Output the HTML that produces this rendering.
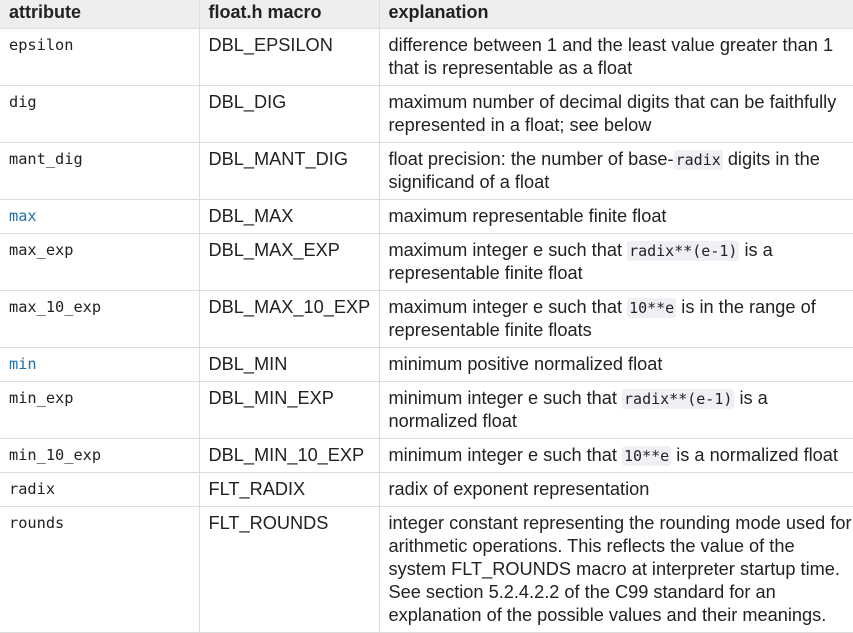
<!DOCTYPE html>
<html><head><meta charset="utf-8"><style>
body{margin:0;background:#fff;width:853px;height:629px;overflow:hidden}
table{border-collapse:collapse;table-layout:fixed;width:853px;font-family:"Liberation Sans",Arial,sans-serif;font-size:18.2px;color:#222;line-height:23px}
td,th{border:1px solid #dcdcdc;padding:5px 2px 5px 9px;vertical-align:top;text-align:left}
th{background:#eeeeee;font-weight:bold;height:19px;padding-top:1px;padding-bottom:5px;font-size:18px;line-height:22px}
tr td:first-child,tr th:first-child{border-left:none}
tr td:last-child,tr th:last-child{border-right:none}
tr:first-child th{border-top:none}
.m{font-family:"DejaVu Sans Mono","Liberation Mono",monospace;font-size:15.3px}
.b{color:#1f6fa8}
.nw{white-space:nowrap;overflow:hidden}
code{font-family:"DejaVu Sans Mono","Liberation Mono",monospace;font-size:15px;line-height:1;background:#eef0f3;border-radius:3px;padding:1px 2px}
</style></head><body>
<table>
<colgroup><col style="width:199px"><col style="width:180px"><col></colgroup>
<tr><th>attribute</th><th>float.h macro</th><th>explanation</th></tr>
<tr><td class="m">epsilon</td><td>DBL_EPSILON</td><td>difference between 1 and the least value greater than 1 that is representable as a float</td></tr>
<tr><td class="m">dig</td><td>DBL_DIG</td><td>maximum number of decimal digits that can be faithfully represented in a float; see below</td></tr>
<tr><td class="m">mant_dig</td><td>DBL_MANT_DIG</td><td>float precision: the number of base-<code>radix</code> digits in the significand of a float</td></tr>
<tr><td class="m b">max</td><td>DBL_MAX</td><td>maximum representable finite float</td></tr>
<tr><td class="m">max_exp</td><td>DBL_MAX_EXP</td><td>maximum integer e such that <code>radix**(e-1)</code> is a representable finite float</td></tr>
<tr><td class="m">max_10_exp</td><td>DBL_MAX_10_EXP</td><td>maximum integer e such that <code>10**e</code> is in the range of representable finite floats</td></tr>
<tr><td class="m b">min</td><td>DBL_MIN</td><td>minimum positive normalized float</td></tr>
<tr><td class="m">min_exp</td><td>DBL_MIN_EXP</td><td>minimum integer e such that <code>radix**(e-1)</code> is a normalized float</td></tr>
<tr><td class="m">min_10_exp</td><td>DBL_MIN_10_EXP</td><td>minimum integer e such that <code>10**e</code> is a normalized float</td></tr>
<tr><td class="m">radix</td><td>FLT_RADIX</td><td>radix of exponent representation</td></tr>
<tr><td class="m">rounds</td><td>FLT_ROUNDS</td><td class="nw">integer constant representing the rounding mode used for<br>arithmetic operations. This reflects the value of the<br>system FLT_ROUNDS macro at interpreter startup time.<br>See section 5.2.4.2.2 of the C99 standard for an<br>explanation of the possible values and their meanings.</td></tr>
</table>
</body></html>
